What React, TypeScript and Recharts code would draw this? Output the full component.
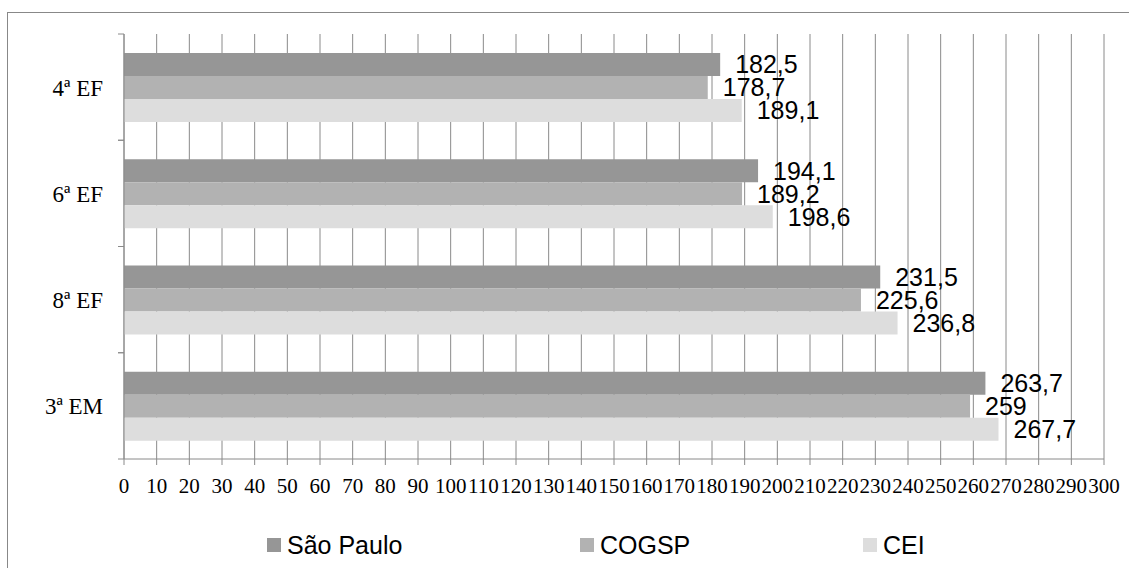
import React from 'react';
import { BarChart, Bar, XAxis, YAxis, CartesianGrid, LabelList, Legend } from 'recharts';

const categories = ['4ª EF', '6ª EF', '8ª EF', '3ª EM'];
const saoPaulo = [182.5, 194.1, 231.5, 263.7];
const cogsp = [178.7, 189.2, 225.6, 259];
const cei = [189.1, 198.6, 236.8, 267.7];
const seriesNames = ['São Paulo', 'COGSP', 'CEI'];
const xTicks = [0, 10, 20, 30, 40, 50, 60, 70, 80, 90, 100, 110, 120, 130, 140, 150, 160, 170, 180, 190, 200, 210, 220, 230, 240, 250, 260, 270, 280, 290, 300];

const data = categories.map((name, i) => ({
  name,
  sp: saoPaulo[i],
  cogsp: cogsp[i],
  cei: cei[i],
}));

const COLORS = ['#969696', '#b2b2b2', '#dddddd'];
const GRID = '#8a8a8a';
const SANS = '"Liberation Sans", Arial, sans-serif';
const SERIF = '"Liberation Serif", "Times New Roman", serif';
const Y_TICK_MARGIN = 21;

const fmt = (v: any) => String(v).replace('.', ',');

const YTick = (props: any) => {
  const { x, y, payload } = props;
  const half = payload && typeof payload.offset === 'number' && payload.offset > 0 ? payload.offset : 53;
  const ax = x + Y_TICK_MARGIN;
  return (
    <g>
      <line x1={ax - 6} x2={ax} y1={y - half} y2={y - half} stroke={GRID} />
      <line x1={ax - 6} x2={ax} y1={y + half} y2={y + half} stroke={GRID} />
      <text x={x} y={y + 1} textAnchor="end" dominantBaseline="central" fontFamily={SERIF} fontSize={23} fill="#000">
        {payload.value}
      </text>
    </g>
  );
};

const legendLefts = [267, 580, 863];

const LegendContent = (props: any) => {
  const payload = [...(props.payload || [])].sort(
    (a: any, b: any) => seriesNames.indexOf(a.value) - seriesNames.indexOf(b.value)
  );
  return (
    <div style={{ position: 'relative', width: 1129, height: 30 }}>
      {payload.map((item: any, i: number) => (
        <div
          key={item.value}
          style={{
            position: 'absolute',
            left: legendLefts[i],
            top: 0,
            height: 30,
            display: 'flex',
            alignItems: 'center',
            fontFamily: SANS,
            fontSize: 25,
            color: '#000',
            whiteSpace: 'nowrap',
          }}
        >
          <span style={{ display: 'inline-block', width: 14, height: 14, background: item.color, marginRight: 6 }} />
          <span>{item.value}</span>
        </div>
      ))}
    </div>
  );
};

const labelStyle = { fontFamily: SANS, fontSize: 25, fill: '#000' };

export default function App() {
  return (
    <div style={{ position: 'absolute', left: 0, top: 0, width: 1129, height: 568, background: '#fff', overflow: 'hidden' }}>
      <BarChart
        width={1129}
        height={568}
        data={data}
        layout="vertical"
        margin={{ top: 34, right: 25, left: 14, bottom: 69 }}
        barSize={23}
        barGap={0}
      >
        <CartesianGrid horizontal={false} vertical stroke={GRID} />
        <XAxis
          type="number"
          domain={[0, 300]}
          ticks={xTicks}
          interval={0}
          height={40}
          axisLine={{ stroke: GRID }}
          tickLine={{ stroke: GRID }}
          tickSize={6}
          tickMargin={13}
          tick={{ fontFamily: SERIF, fontSize: 21, fill: '#000' }}
        />
        <YAxis
          type="category"
          dataKey="name"
          width={110}
          axisLine={{ stroke: GRID }}
          tickLine={false}
          tickSize={0}
          tickMargin={Y_TICK_MARGIN}
          tick={<YTick />}
          interval={0}
        />
        <Legend
          verticalAlign="middle"
          layout="horizontal"
          wrapperStyle={{ top: 530, left: 0, width: 1129 }}
          content={<LegendContent />}
        />
        <Bar dataKey="sp" name={seriesNames[0]} fill={COLORS[0]} isAnimationActive={false}>
          <LabelList dataKey="sp" position="right" offset={15} formatter={fmt} style={labelStyle} />
        </Bar>
        <Bar dataKey="cogsp" name={seriesNames[1]} fill={COLORS[1]} isAnimationActive={false}>
          <LabelList dataKey="cogsp" position="right" offset={15} formatter={fmt} style={labelStyle} />
        </Bar>
        <Bar dataKey="cei" name={seriesNames[2]} fill={COLORS[2]} isAnimationActive={false}>
          <LabelList dataKey="cei" position="right" offset={15} formatter={fmt} style={labelStyle} />
        </Bar>
      </BarChart>
      <div
        style={{
          position: 'absolute',
          left: 7,
          top: 12,
          width: 1129,
          height: 568,
          borderTop: '1px solid #888',
          borderLeft: '1px solid #888',
          pointerEvents: 'none',
        }}
      />
    </div>
  );
}
